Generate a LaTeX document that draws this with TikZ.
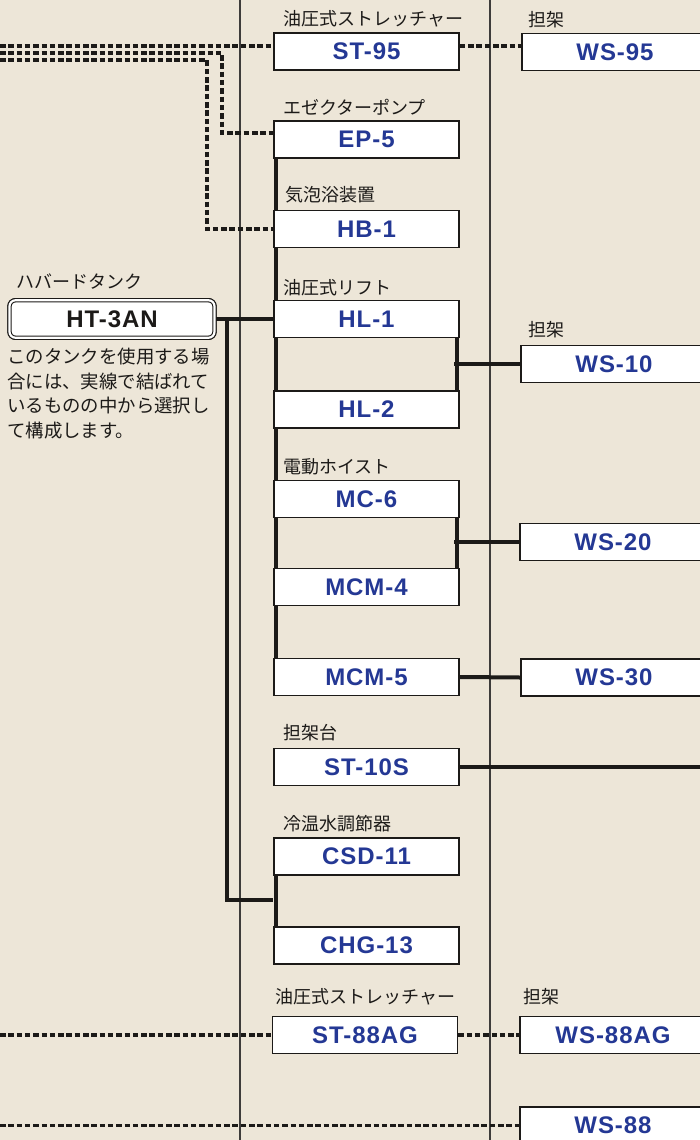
\documentclass[tikz,border=0pt]{standalone}
\usepackage{fontspec}
\setmainfont{Liberation Sans}
\newfontfamily\labfont[LetterSpace=4]{Liberation Sans}
\newfontfamily\jp{Noto Sans CJK JP}
\definecolor{bgc}{RGB}{237,230,216}
\definecolor{lblue}{RGB}{36,56,148}
\definecolor{ink}{RGB}{28,26,24}
\begin{document}
\begin{tikzpicture}[x=1pt,y=-1pt,
  thinline/.style={line width=1.3pt, draw=ink!85},
  bus/.style={line width=4pt, draw=ink},
  dashline/.style={line width=3.4pt, draw=ink, dash pattern=on 5.5pt off 2.8pt},
  box/.style={draw=ink, line width=1.7pt, fill=white, minimum width=185pt, minimum height=37pt, inner sep=0pt, font=\labfont\bfseries\fontsize{24}{24}\selectfont, text=lblue},
  rbox/.style={box, minimum width=186pt},
  htbox/.style={draw=ink, line width=1.1pt, double=white, double distance=2.2pt, rounded corners=6pt, fill=white, minimum width=205pt, minimum height=37.5pt, inner sep=0pt, font=\labfont\bfseries\fontsize{24}{24}\selectfont, text=ink},
  lab/.style={anchor=west, inner sep=0pt, font=\jp\fontsize{18}{18}\selectfont, text=ink},
]
\useasboundingbox (0,0) rectangle (700,1140);
\fill[bgc] (0,0) rectangle (700,1140);

% column separators
\coordinate (c1t) at (240,0); \coordinate (c1b) at (240,1140);
\coordinate (c2t) at (490,0); \coordinate (c2b) at (490,1140);
\draw[thinline] (c1t) -- (c1b);
\draw[thinline] (c2t) -- (c2b);

% boxes (named here; drawn again on top of the connectors below)
\node[box] (st95) at (366.5,51.5) {ST-95};
\node[box] (ep5) at (366.5,139.5) {EP-5};
\node[box] (hb1) at (366.5,229) {HB-1};
\node[box] (hl1) at (366.5,319) {HL-1};
\node[box] (hl2) at (366.5,409.5) {HL-2};
\node[box] (mc6) at (366.5,499) {MC-6};
\node[box] (mcm4) at (366.5,587) {MCM-4};
\node[box] (mcm5) at (366.5,677) {MCM-5};
\node[box] (st10s) at (366.5,767) {ST-10S};
\node[box] (csd) at (366.5,856.5) {CSD-11};
\node[box] (chg) at (366.5,945.5) {CHG-13};
\node[box] (st88) at (365,1035) {ST-88AG};

\node[rbox] (ws95) at (615,52) {WS-95};
\node[rbox] (ws10) at (614,364) {WS-10};
\node[rbox] (ws20) at (613,542) {WS-20};
\node[rbox] (ws30) at (614,677.5) {WS-30};
\node[rbox] (ws88ag) at (613,1035) {WS-88AG};
\node[rbox] (ws88) at (613,1125.5) {WS-88};

\node[htbox] (ht) at (112,319) {HT-3AN};

% solid connectors
\coordinate (j1) at (227,319);
\coordinate (j2) at (227,900);
\draw[bus] (ht.east) -- (hl1.west);
\draw[bus] (j1) -- (j2) -- (j2 -| chg.west);
\draw[bus] ([xshift=2.8pt]ep5.south west) -- ([xshift=2.8pt]mcm5.north west);
\draw[bus] ([xshift=2.8pt]csd.south west) -- ([xshift=2.8pt]chg.north west);
\coordinate (r1) at (456.2,364);
\draw[bus] ([xshift=-2.8pt]hl1.south east) -- ([xshift=-2.8pt]hl2.north east);
\draw[bus] ([xshift=-2pt]r1) -- (ws10.west);
\coordinate (r2) at (456.2,542);
\draw[bus] ([xshift=-2.8pt]mc6.south east) -- ([xshift=-2.8pt]mcm4.north east);
\draw[bus] ([xshift=-2pt]r2) -- (ws20.west);
\draw[bus] (mcm5.east) -- (ws30.west);
\coordinate (e1) at (700,767);
\draw[bus] (st10s.east) -- (e1);

% dashed connectors
\coordinate (d1) at (0,46);
\draw[dashline] (d1) -- (d1 -| st95.west);
\draw[dashline] (st95.east |- d1) -- (ws95.west |- d1);
\coordinate (d2) at (0,53); \coordinate (d2a) at (222,53); \coordinate (d2b) at (222,133);
\draw[dashline] (d2) -- (d2a) -- (d2b) -- (d2b -| ep5.west);
\coordinate (d3) at (0,60); \coordinate (d3a) at (207,60); \coordinate (d3b) at (207,229);
\draw[dashline] (d3) -- (d3a) -- (d3b) -- (hb1.west);
\coordinate (d4) at (0,1035);
\draw[dashline] (d4) -- (st88.west);
\draw[dashline] (st88.east) -- (ws88ag.west);
\coordinate (d5) at (0,1125.5);
\draw[dashline] (d5) -- (ws88.west);

% boxes on top of connectors
\node[box] at (st95) {ST-95};
\node[box] at (ep5) {EP-5};
\node[box] at (hb1) {HB-1};
\node[box] at (hl1) {HL-1};
\node[box] at (hl2) {HL-2};
\node[box] at (mc6) {MC-6};
\node[box] at (mcm4) {MCM-4};
\node[box] at (mcm5) {MCM-5};
\node[box] at (st10s) {ST-10S};
\node[box] at (csd) {CSD-11};
\node[box] at (chg) {CHG-13};
\node[box] at (st88) {ST-88AG};
\node[rbox] at (ws95) {WS-95};
\node[rbox] at (ws10) {WS-10};
\node[rbox] at (ws20) {WS-20};
\node[rbox] at (ws30) {WS-30};
\node[rbox] at (ws88ag) {WS-88AG};
\node[rbox] at (ws88) {WS-88};
\node[htbox] at (ht) {HT-3AN};

% labels
\node[lab] (l1) at (283,19) {油圧式ストレッチャー};
\node[lab] (l2) at (528,20) {担架};
\node[lab] (l3) at (283,107) {エゼクターポンプ};
\node[lab] (l4) at (285,195) {気泡浴装置};
\node[lab] (l5) at (16,281.5) {ハバードタンク};
\node[lab] (l6) at (283,288) {油圧式リフト};
\node[lab] (l7) at (528,330) {担架};
\node[lab] (l8) at (283,467) {電動ホイスト};
\node[lab] (l9) at (283,733) {担架台};
\node[lab] (l10) at (283,824) {冷温水調節器};
\node[lab] (l11) at (275,997) {油圧式ストレッチャー};
\node[lab] (l12) at (523,997) {担架};

\node[anchor=north west, inner sep=0pt, align=left, text=ink,
      font=\jp\fontsize{18.4}{24.6}\selectfont] (desc) at (7,348)
  {このタンクを使用する場\\合には、実線で結ばれて\\いるものの中から選択し\\て構成します。};
\end{tikzpicture}
\end{document}
